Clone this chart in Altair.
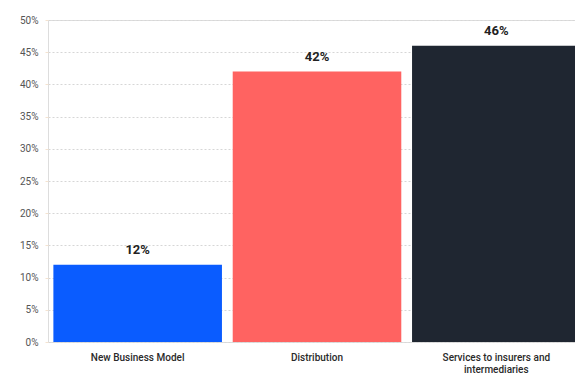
import altair as alt
import pandas as pd

categories = ["New Business Model", "Distribution", "Services to insurers and intermediaries"]
values = [12, 42, 46]
colors = ["#0a5cff", "#ff6361", "#1f2631"]
y_ticks = [0, 5, 10, 15, 20, 25, 30, 35, 40, 45, 50]

df = pd.DataFrame({
    "category": categories,
    "value": values,
    "label": [f"{v}%" for v in values],
})

x_enc = alt.X(
    "category:N",
    sort=categories,
    scale=alt.Scale(paddingInner=0.06, paddingOuter=0.03, range=[0, 538]),
    axis=alt.Axis(
        title=None,
        labelAngle=0,
        labelFont="Roboto",
        labelFontSize=10,
        labelFontWeight=500,
        labelColor="#2a2a2a",
        labelPadding=10,
        ticks=False,
        domain=False,
        labelExpr="datum.value == 'Services to insurers and intermediaries' ? ['Services to insurers and', 'intermediaries'] : datum.value",
        labelLimit=300,
    ),
)

y_enc = alt.Y(
    "value:Q",
    scale=alt.Scale(domain=[0, 50]),
    axis=alt.Axis(
        title=None,
        values=y_ticks,
        labelExpr="datum.value + '%'",
        labelFont="Roboto",
        labelFontSize=10,
        labelColor="#555555",
        labelPadding=7,
        grid=True,
        gridDash=[2, 2],
        gridColor="#d6d6d6",
        tickColor="#f4e3d0",
        tickSize=3,
        domain=False,
    ),
)

base = alt.Chart(df).encode(x=x_enc, y=y_enc)

bars = base.mark_bar(clip=True).encode(
    color=alt.Color("category:N", scale=alt.Scale(domain=categories, range=colors), legend=None),
)

text = base.mark_text(
    dy=-15, font="Roboto", fontSize=13, fontWeight="bold", color="#222222"
).encode(text="label:N")

chart = (bars + text).properties(
    width=527,
    height=322,
    autosize=alt.AutoSizeParams(type="none"),
    padding={"left": 48, "top": 20, "right": 0, "bottom": 36},
).configure_view(stroke=None).configure(background="white")

chart.save("out.html", embed_options={"renderer": "svg", "actions": False})
